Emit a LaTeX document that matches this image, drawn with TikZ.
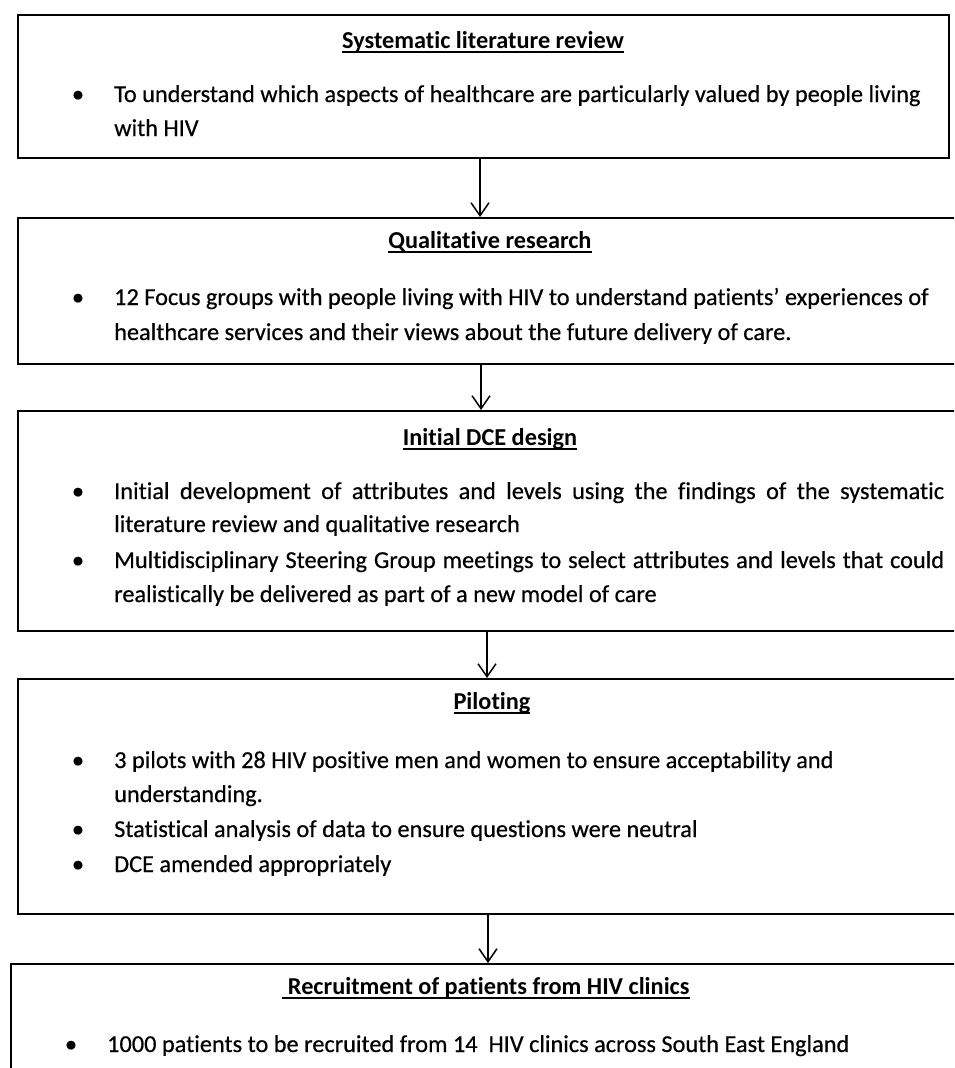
\documentclass[tikz,border=0pt]{standalone}
\usepackage{fontspec}
\setmainfont{Carlito}[Ligatures=NoCommon]
\newfontfamily\bodyf{Carlito}[FakeBold=0.5,Ligatures=NoCommon]
\usetikzlibrary{arrows.meta}
\newcommand\uln[1]{\setbox0\hbox{#1}\rlap{\rule[-0.21em]{\wd0}{0.075em}}\box0}
\begin{document}
\begin{tikzpicture}[x=1pt,y=-1pt,
  box/.style={draw, line width=1.6pt, anchor=north west, inner sep=0pt},
  ttl/.style={anchor=base, inner sep=0pt, font=\fontsize{24.3}{29}\selectfont\bfseries},
  txt/.style={anchor=base west, inner sep=0pt, font=\fontsize{24.3}{29}\bodyf\selectfont},
  bul/.style={anchor=base, inner sep=0pt, font=\fontsize{24.3}{29}\bodyf\selectfont},
  arr/.style={-{Straight Barb[length=13pt,width=18pt,line width=1.5pt]}, line width=1.5pt}]
\useasboundingbox (0,0) rectangle (954,1068);
\fill[white] (0,0) rectangle (954,1068);
\clip (0,0) rectangle (954,1068);
% boxes
\node[box, minimum width=931pt, minimum height=143pt] (b1) at (17,14) {};
\node[box, minimum width=946pt, minimum height=146pt] (b2) at (17,217) {};
\node[box, minimum width=946pt, minimum height=220pt] (b3) at (17,410) {};
\node[box, minimum width=946pt, minimum height=235pt] (b4) at (17,678) {};
\node[box, minimum width=960pt, minimum height=140pt] (b5) at (10,963) {};
% arrows
\coordinate (x1) at (480,0);
\coordinate (x2) at (481,0);
\coordinate (x3) at (487,0);
\coordinate (x4) at (488,0);
\draw[arr] (b1.south -| x1) -- (b2.north -| x1);
\draw[arr] (b2.south -| x2) -- (b3.north -| x2);
\draw[arr] (b3.south -| x3) -- (b4.north -| x3);
\draw[arr] (b4.south -| x4) -- (b5.north -| x4);
% box 1
\node[ttl] (t1) at (483,48) {\uln{Systematic literature review}};
\node[bul] (p11) at (78,102) {•};
\node[txt] (l11) at (114,102) {To understand which aspects of healthcare are particularly valued by people living};
\node[txt] (l12) at (114,136) {with HIV};
% box 2
\node[ttl] (t2) at (490,248) {\uln{Qualitative research}};
\node[bul] (p21) at (78,305) {•};
\node[txt] (l21) at (114,305) {12 Focus groups with people living with HIV to understand patients’ experiences of};
\node[txt] (l22) at (114,340) {healthcare services and their views about the future delivery of care.};
% box 3
\node[ttl] (t3) at (490,445) {\uln{Initial DCE design}};
\node[bul] (p31) at (78,499) {•};
\node[txt] (l31) at (114,499) {\makebox[830pt][s]{Initial development of attributes and levels using the findings of the systematic}};
\node[txt] (l32) at (114,532) {literature review and qualitative research};
\node[bul] (p32) at (78,568) {•};
\node[txt] (l33) at (114,568) {\makebox[830pt][s]{Multidisciplinary Steering Group meetings to select attributes and levels that could}};
\node[txt] (l34) at (114,602) {realistically be delivered as part of a new model of care};
% box 4
\node[ttl] (t4) at (492,709) {\uln{Piloting}};
\node[bul] (p41) at (78,768) {•};
\node[txt] (l41) at (114,768) {3 pilots with 28 HIV positive men and women to ensure acceptability and};
\node[txt] (l42) at (114,802) {understanding.};
\node[bul] (p42) at (78,837) {•};
\node[txt] (l43) at (114,837) {Statistical analysis of data to ensure questions were neutral};
\node[bul] (p43) at (78,872) {•};
\node[txt] (l44) at (114,872) {DCE amended appropriately};
% box 5
\node[ttl] (t5) at (486,994) {\uln{\ Recruitment of patients from HIV clinics}};
\node[bul] (p51) at (71,1052) {•};
\node[txt] (l51) at (107,1052) {1000 patients to be recruited from 14\ \ HIV clinics across South East England};
\end{tikzpicture}
\end{document}
